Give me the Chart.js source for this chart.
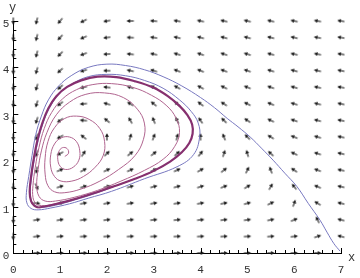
<!DOCTYPE html>
<html>
<head>
<meta charset="utf-8">
<script src="https://cdn.jsdelivr.net/npm/chart.js@4.4.1/dist/chart.umd.min.js"></script>
<style>
  html, body { margin: 0; padding: 0; background: #fff; }
  #wrap { width: 360px; height: 278px; }
</style>
</head>
<body>
<div id="wrap"><canvas id="chart" width="360" height="278"></canvas></div>
<script>
// axis ticks
const xTicks = [0, 1, 2, 3, 4, 5, 6, 7];
const yTicks = [0, 1, 2, 3, 4, 5];

// direction field grid
const gridX = [0, 0.5, 1, 1.5, 2, 2.5, 3, 3.5, 4, 4.5, 5, 5.5, 6, 6.5, 7];
const gridY = [0, 0.357, 0.714, 1.071, 1.429, 1.786, 2.143, 2.5, 2.857, 3.214, 3.571, 3.929, 4.286, 4.643, 5];

// arrow direction (degrees, counter-clockwise from +x), one row per gridY value
const fieldAngles = [
  [null, 0, 0, 0, 0, 0, 0, 0, 0, 0, 0, 0, 0, 0, null],
  [-90, 7, 5, 4, 3, 3, 3, 3, 3, 3, 3, 4, 7, 19, 165],
  [-90, 9, 10, 8, 7, 6, 6, 6, 6, 7, 8, 11, 22, 116, 166],
  [-90, -6, 14, 12, 11, 10, 10, 10, 11, 12, 16, 26, 70, 149, 166],
  [-90, -65, 18, 19, 17, 16, 15, 16, 18, 22, 31, 60, 128, 157, 167],
  [-90, -99, 23, 29, 26, 24, 24, 25, 30, 39, 63, 111, 146, 160, 167],
  [-90, -107, -153, 58, 44, 40, 39, 43, 52, 72, 107, 137, 154, 162, 167],
  [-90, -108, -150, 142, 90, 73, 70, 76, 90, 112, 134, 149, 158, 164, 168],
  [-90, -108, -146, 175, 141, 120, 112, 115, 124, 136, 146, 155, 161, 165, 168],
  [-90, -108, -143, -175, 163, 148, 140, 139, 142, 147, 153, 158, 163, 166, 168],
  [-90, -107, -140, -168, 173, 161, 154, 151, 152, 154, 158, 161, 164, 167, 169],
  [-90, -106, -138, -164, 179, 168, 162, 158, 158, 159, 161, 163, 165, 167, 169],
  [-90, -105, -135, -160, -177, 173, 167, 163, 162, 162, 163, 165, 167, 168, 170],
  [-90, -104, -133, -157, -173, 177, 171, 167, 165, 165, 165, 166, 167, 169, 170],
  [-90, -104, -131, -154, -170, 180, 174, 170, 168, 167, 167, 167, 168, 169, 170]
];

// trajectories
const outerX = [6.98, 6.85, 6.7, 6.55, 6.3, 6.06, 5.8, 5.55, 5.3, 5.06, 4.8, 4.57, 4.3, 4.0, 3.6, 3.2, 2.8, 2.4, 2.0, 1.6, 1.25, 0.97, 0.75, 0.6, 0.48, 0.4, 0.33, 0.28, 0.29, 0.38, 0.53, 0.8, 1.2, 1.6, 2.1, 2.8, 3.5, 3.85, 3.98, 3.95, 3.8, 3.55, 3.2, 2.8, 2.4, 2.0, 1.6, 1.25, 0.97, 0.77, 0.63, 0.53, 0.45, 0.39, 0.36, 0.4, 0.48, 0.6, 0.9, 1.3, 1.8, 2.3, 2.8, 3.2];
const outerY = [0.04, 0.2, 0.45, 0.71, 1.07, 1.43, 1.72, 2.0, 2.26, 2.5, 2.72, 2.9, 3.13, 3.35, 3.6, 3.8, 3.95, 4.04, 4.07, 4.0, 3.83, 3.6, 3.3, 2.95, 2.55, 2.1, 1.65, 1.3, 1.08, 0.96, 0.93, 0.97, 1.06, 1.18, 1.33, 1.6, 1.86, 2.12, 2.5, 2.8, 3.05, 3.3, 3.55, 3.72, 3.82, 3.85, 3.8, 3.64, 3.42, 3.12, 2.78, 2.42, 2.02, 1.62, 1.28, 1.08, 1.0, 0.98, 1.03, 1.14, 1.3, 1.49, 1.68, 1.87];

const innerX = [1.1, 1.18, 1.15, 1.05, 0.97, 0.95, 1.0, 1.12, 1.28, 1.4, 1.42, 1.35, 1.2, 1.02, 0.88, 0.8, 0.8, 0.88, 1.02, 1.25, 1.5, 1.75, 1.92, 1.95, 1.85, 1.62, 1.35, 1.1, 0.88, 0.74, 0.68, 0.68, 0.74, 0.88, 1.1, 1.45, 1.85, 2.25, 2.6, 2.78, 2.8, 2.65, 2.35, 1.95, 1.55, 1.2, 0.92, 0.72, 0.6, 0.53, 0.5, 0.55, 0.68, 0.9, 1.3, 1.8, 2.3, 2.8, 3.2, 3.45, 3.55, 3.48, 3.28, 2.95, 2.55, 2.1, 1.7, 1.35, 1.05, 0.82, 0.66, 0.55, 0.47, 0.42, 0.42, 0.48, 0.6, 0.85, 1.2, 1.6, 2.1];
const innerY = [2.08, 2.15, 2.25, 2.27, 2.18, 2.02, 1.87, 1.8, 1.85, 2.0, 2.2, 2.4, 2.5, 2.48, 2.35, 2.12, 1.85, 1.65, 1.55, 1.55, 1.65, 1.85, 2.1, 2.4, 2.68, 2.88, 2.95, 2.9, 2.7, 2.4, 2.05, 1.7, 1.45, 1.32, 1.3, 1.38, 1.55, 1.8, 2.1, 2.45, 2.8, 3.1, 3.35, 3.45, 3.42, 3.25, 2.98, 2.6, 2.2, 1.8, 1.45, 1.22, 1.12, 1.12, 1.2, 1.35, 1.55, 1.78, 2.02, 2.3, 2.6, 2.9, 3.17, 3.4, 3.57, 3.65, 3.63, 3.52, 3.32, 3.03, 2.68, 2.28, 1.85, 1.45, 1.2, 1.07, 1.02, 1.05, 1.13, 1.25, 1.42];

const cycleX = [0.53, 0.8, 1.2, 1.6, 2.1, 2.6, 3.0, 3.35, 3.6, 3.76, 3.83, 3.82, 3.72, 3.55, 3.3, 3.0, 2.6, 2.2, 1.8, 1.45, 1.15, 0.92, 0.75, 0.62, 0.52, 0.44, 0.38, 0.35, 0.38, 0.45, 0.53];
const cycleY = [0.98, 1.03, 1.13, 1.25, 1.42, 1.6, 1.77, 1.97, 2.17, 2.37, 2.57, 2.77, 2.97, 3.17, 3.38, 3.56, 3.7, 3.79, 3.8, 3.72, 3.58, 3.38, 3.12, 2.8, 2.45, 2.05, 1.65, 1.32, 1.12, 1.02, 0.98];

const toPts = (xs, ys) => xs.map((x, i) => ({ x: x, y: ys[i] }));

const arrowPts = [];
fieldAngles.forEach((row, k) => {
  row.forEach((a, i) => {
    if (a !== null) arrowPts.push({ x: gridX[i], y: gridY[k], a: a });
  });
});

// small arrow glyph, pointing right, rotated per point by chart.js
function makeArrow() {
  const c = document.createElement('canvas');
  c.width = 10; c.height = 10;
  const g = c.getContext('2d');
  g.strokeStyle = '#1a1a1a';
  g.fillStyle = '#1a1a1a';
  g.lineWidth = 1.1;
  g.beginPath(); g.moveTo(1.5, 5); g.lineTo(6.5, 5); g.stroke();
  g.beginPath(); g.moveTo(8.8, 5); g.lineTo(5.2, 3.1); g.lineTo(5.2, 6.9); g.closePath(); g.fill();
  return c;
}
const arrowImg = makeArrow();

const monoFont = { family: "'Liberation Mono', 'DejaVu Sans Mono', monospace", size: 11 };

// Mathematica-like inside ticks plus axis names
const axesExtras = {
  id: 'axesExtras',
  afterDraw(chart) {
    const { ctx, scales: { x, y } } = chart;
    const y0 = y.getPixelForValue(0);
    const x0 = x.getPixelForValue(0);
    ctx.save();
    ctx.strokeStyle = '#000';
    ctx.lineWidth = 1;
    for (let i = 0; i <= 35; i++) {
      const v = i / 5;
      const px = Math.round(x.getPixelForValue(v)) + 0.5;
      const len = (i % 5 === 0) ? 5 : 3;
      ctx.beginPath(); ctx.moveTo(px, y0); ctx.lineTo(px, y0 - len); ctx.stroke();
    }
    for (let i = 0; i <= 25; i++) {
      const v = i / 5;
      const py = Math.round(y.getPixelForValue(v)) + 0.5;
      const len = (i % 5 === 0) ? 5 : 3;
      ctx.beginPath(); ctx.moveTo(x0, py); ctx.lineTo(x0 + len, py); ctx.stroke();
    }
    ctx.fillStyle = '#333';
    ctx.font = "12px 'Liberation Mono', monospace";
    ctx.textAlign = 'left';
    ctx.textBaseline = 'middle';
    ctx.fillText('x', 348, 258);
    ctx.fillText('y', 9, 8);
    ctx.restore();
  }
};

new Chart(document.getElementById('chart'), {
  type: 'scatter',
  data: {
    datasets: [
      {
        data: toPts(cycleX, cycleY),
        showLine: true, borderColor: '#86306f', borderWidth: 2.2,
        pointRadius: 0, tension: 0.4, clip: false
      },
      {
        data: toPts(innerX, innerY),
        showLine: true, borderColor: '#b0648f', borderWidth: 1,
        pointRadius: 0, tension: 0.4, clip: false
      },
      {
        data: toPts(outerX, outerY),
        showLine: true, borderColor: '#7878c0', borderWidth: 1,
        pointRadius: 0, tension: 0.4, clip: false
      },
      {
        data: arrowPts,
        pointStyle: arrowImg,
        pointRadius: 4,
        pointRotation: (c) => -c.raw.a,
        clip: false
      }
    ]
  },
  options: {
    responsive: false,
    animation: false,
    devicePixelRatio: 1,
    layout: { padding: { top: 21, right: 19, bottom: 0, left: 0 } },
    plugins: { legend: { display: false }, tooltip: { enabled: false } },
    scales: {
      x: {
        type: 'linear', min: 0, max: 7,
        afterBuildTicks: (s) => { s.ticks = xTicks.map(v => ({ value: v })); },
        afterFit: (s) => { s.height = 25; },
        ticks: { font: monoFont, color: '#333', padding: 10, maxRotation: 0 },
        grid: { display: false, drawTicks: false },
        border: { display: true, color: '#000', width: 1 }
      },
      y: {
        type: 'linear', min: 0, max: 5,
        afterBuildTicks: (s) => { s.ticks = yTicks.map(v => ({ value: v })); },
        afterFit: (s) => { s.width = 12; },
        ticks: { font: monoFont, color: '#333', padding: 4, labelOffset: 3 },
        grid: { display: false, drawTicks: false },
        border: { display: true, color: '#000', width: 1 }
      }
    }
  },
  plugins: [axesExtras]
});
</script>
</body>
</html>
